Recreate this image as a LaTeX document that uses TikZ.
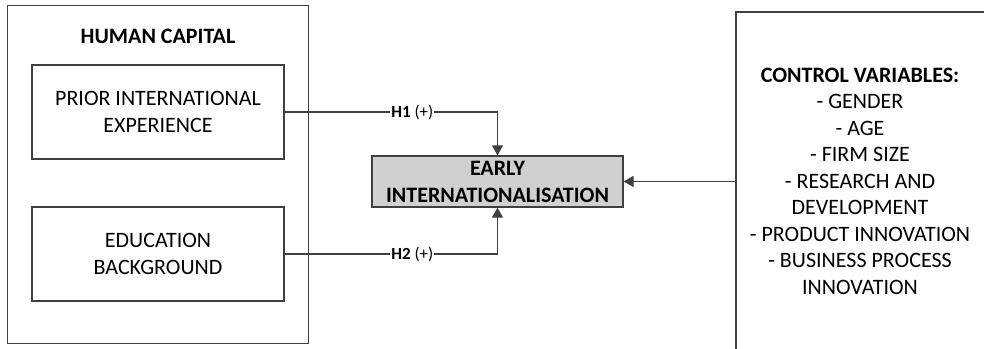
\documentclass[tikz,border=0pt]{standalone}
\usepackage{fontspec}
\setmainfont{Carlito}
\usetikzlibrary{arrows.meta}
\definecolor{linegray}{HTML}{404040}
\definecolor{boxfill}{HTML}{D0D0D0}
\begin{document}
\begin{tikzpicture}[x=1pt,y=-1pt,
  frame/.style={draw=linegray,line width=1.3pt},
  varbox/.style={frame,minimum width=252pt,minimum height=94pt,inner sep=0pt,align=center,
                 font=\fontsize{22}{27}\selectfont},
  link/.style={draw=linegray,line width=1.3pt},
  tip/.style={-{Triangle[length=10pt,width=11pt]}},
  hlabel/.style={fill=white,inner sep=1pt,font=\fontsize{17}{18}\selectfont}]
\useasboundingbox[fill=white] (0,0) rectangle (984,348);
% human capital frame
\node[frame,minimum width=301pt,minimum height=338pt,inner sep=0pt,anchor=north west] (hc) at (7,5) {};
\node[font=\bfseries\fontsize{22}{27}\selectfont] (hct) at (158,36) {HUMAN CAPITAL};
\node[varbox] (pie) at (158,112) {PRIOR INTERNATIONAL\\EXPERIENCE};
\node[varbox] (edu) at (158,254) {EDUCATION\\BACKGROUND};
% dependent variable
\node[frame,fill=boxfill,minimum width=251pt,minimum height=51pt,inner sep=0pt,align=center,
      font=\bfseries\fontsize{22}{27}\selectfont] (ei) at (497.5,181.5) {EARLY\\INTERNATIONALISATION};
% control variables frame (open to the right and bottom)
\coordinate (cvtop) at (736,12);
\coordinate (cvtr) at (985,12);
\coordinate (cvbot) at (736,349);
\draw[link] (cvtr) -- (cvtop) -- (cvbot);
\coordinate (cvin) at (736,181.5);
\node[align=center,font=\fontsize{22}{26.5}\selectfont] (cv) at (860,181) {%
  \textbf{CONTROL VARIABLES:}\\- GENDER\\- AGE\\- FIRM SIZE\\- RESEARCH AND\\DEVELOPMENT\\%
  - PRODUCT INNOVATION\\- BUSINESS PROCESS\\INNOVATION};
% hypotheses
\draw[link,tip] (pie.east) -- (ei.north |- pie.east) node[pos=0.6,hlabel] (h1) {\textbf{H1} (+)} -- (ei.north);
\draw[link,tip] (edu.east) -- (ei.south |- edu.east) node[pos=0.6,hlabel] (h2) {\textbf{H2} (+)} -- (ei.south);
\draw[link,tip] (cvin) -- (ei.east);
\end{tikzpicture}
\end{document}
